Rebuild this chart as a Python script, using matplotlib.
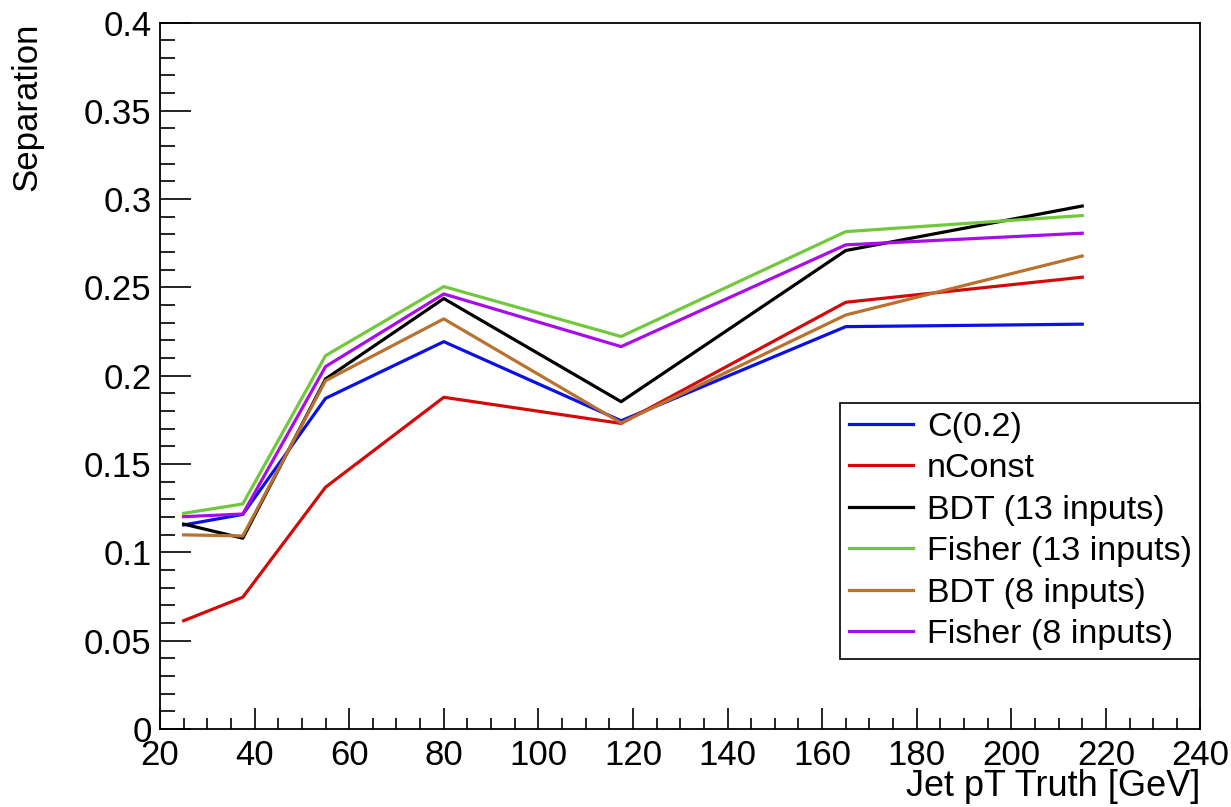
import matplotlib
matplotlib.use('Agg')
import matplotlib.pyplot as plt
from matplotlib.ticker import MultipleLocator

plt.rcParams['font.family'] = ['Liberation Sans', 'DejaVu Sans']

# jet pT bin centres [GeV]
pt_bins = [25, 37.5, 55, 80, 117.5, 165, 215]

sep_c02 = [0.1155, 0.1215, 0.1872, 0.2193, 0.1745, 0.2278, 0.2292]
sep_nconst = [0.0613, 0.0746, 0.1369, 0.1878, 0.1730, 0.2416, 0.2558]
sep_bdt13 = [0.1160, 0.1080, 0.1982, 0.2437, 0.1853, 0.2709, 0.2961]
sep_fisher13 = [0.1221, 0.1274, 0.2114, 0.2505, 0.2222, 0.2816, 0.2907]
sep_bdt8 = [0.1099, 0.1093, 0.1972, 0.2322, 0.1733, 0.2344, 0.2678]
sep_fisher8 = [0.1202, 0.1217, 0.2052, 0.2463, 0.2165, 0.2741, 0.2807]

labels = ['C(0.2)', 'nConst', 'BDT (13 inputs)', 'Fisher (13 inputs)',
          'BDT (8 inputs)', 'Fisher (8 inputs)']
colors = ['#0a10e6', '#d20a0a', '#000000', '#72c83c', '#b8712e', '#a80ce8']

y_ticks = [0, 0.05, 0.1, 0.15, 0.2, 0.25, 0.3, 0.35, 0.4]
y_ticklabels = ['0', '0.05', '0.1', '0.15', '0.2', '0.25', '0.3', '0.35', '0.4']

fig = plt.figure(figsize=(12.31, 8.07), dpi=100, facecolor='w')
ax = fig.add_axes([0.130, 0.0967, 0.8452, 0.8754])

series = [sep_c02, sep_nconst, sep_bdt13, sep_fisher13, sep_bdt8, sep_fisher8]
for ys, lab, col in zip(series, labels, colors):
    ax.plot(pt_bins, ys, color=col, lw=2.3, label=lab)

ax.set_xlim(20, 240)
ax.set_ylim(0, 0.4)

ax.xaxis.set_major_locator(MultipleLocator(20))
ax.xaxis.set_minor_locator(MultipleLocator(5))
ax.yaxis.set_minor_locator(MultipleLocator(0.01))
ax.set_yticks(y_ticks)
ax.set_yticklabels(y_ticklabels)

ax.tick_params(axis='both', which='both', direction='in', top=False, right=False,
               width=1.2, labelsize=25)
ax.tick_params(axis='y', which='major', length=22, pad=6)
ax.tick_params(axis='y', which='minor', length=11)
ax.tick_params(axis='x', which='major', length=15, pad=7)
ax.tick_params(axis='x', which='minor', length=7.7)
for sp in ax.spines.values():
    sp.set_linewidth(1.3)

ax.set_xlabel('Jet pT Truth [GeV]', fontsize=26, loc='right')
ax.xaxis.set_label_coords(1.0, -0.056)
ax.set_ylabel('Separation', fontsize=25, loc='top')
ax.yaxis.set_label_coords(-0.1125, 1.0)

leg = ax.legend(loc='upper right', bbox_to_anchor=(1.0, 0.4614), borderaxespad=0,
                fontsize=24.5, fancybox=False, edgecolor='k', framealpha=1,
                handlelength=1.9, handletextpad=0.4, labelspacing=0.31,
                borderpad=0.25)
leg.get_frame().set_linewidth(1.2)

fig.savefig('out.png', dpi=100)
